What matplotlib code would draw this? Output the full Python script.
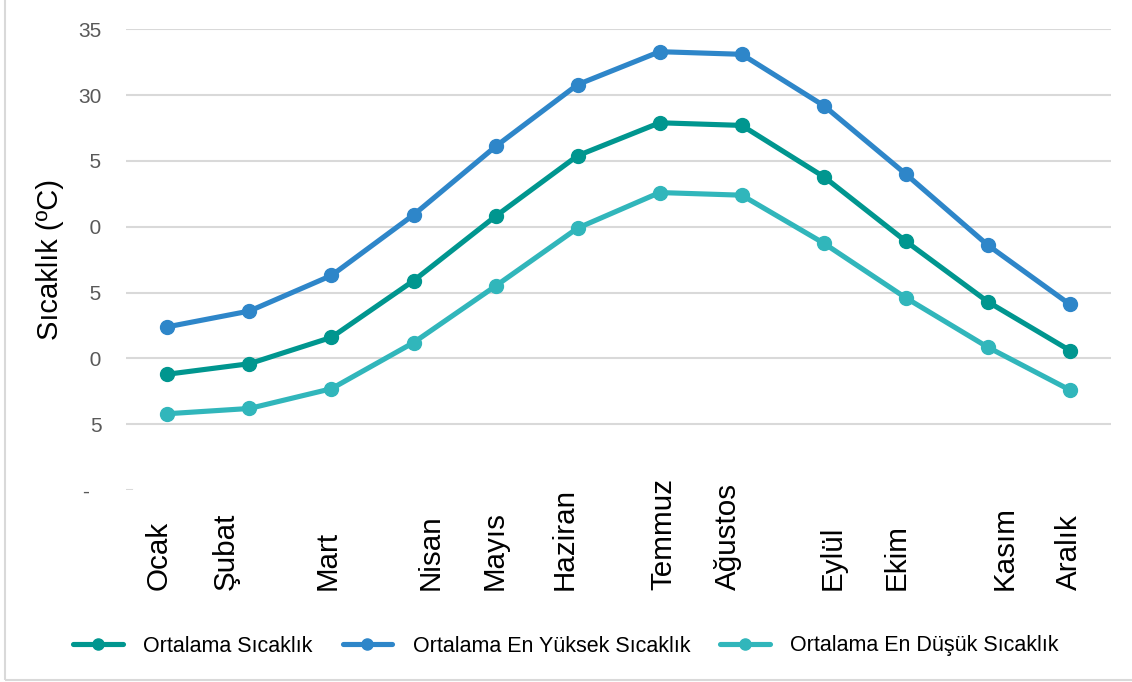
import matplotlib
matplotlib.use("Agg")
import matplotlib.pyplot as plt
from matplotlib.patches import Rectangle
from matplotlib.ticker import FuncFormatter
import matplotlib.transforms as mtransforms

months = ["Ocak", "Şubat", "Mart", "Nisan", "Mayıs", "Haziran",
          "Temmuz", "Ağustos", "Eylül", "Ekim", "Kasım", "Aralık"]
avg_temp = [8.8, 9.6, 11.6, 15.9, 20.8, 25.4, 27.9, 27.7, 23.8, 18.9, 14.3, 10.6]
high_temp = [12.4, 13.6, 16.3, 20.9, 26.1, 30.8, 33.3, 33.1, 29.2, 24.0, 18.6, 14.1]
low_temp = [5.8, 6.2, 7.7, 11.2, 15.5, 19.9, 22.6, 22.4, 18.75, 14.6, 10.85, 7.6]
series_names = ["Ortalama Sıcaklık", "Ortalama En Yüksek Sıcaklık", "Ortalama En Düşük Sıcaklık"]
y_ticks = [0, 5, 10, 15, 20, 25, 30, 35]
y_title = "Sıcaklık (ºC)"

# label horizontal nudges in pixels (layout only)
label_dx = [-9, -24, -4, 17, -1, -13, 4, -14, 9, -9, 17, -1]

colors = ["#00968F", "#2E86C9", "#31B6BB"]

plt.rcParams['font.family'] = ['Liberation Sans', 'DejaVu Sans']

fig = plt.figure(figsize=(11.32, 6.82), dpi=100)
W, H = 1132, 682
ax = fig.add_axes([126.3 / W, 1 - 490.1 / H, 984.7 / W, (490.1 - 29.3) / H])

x = list(range(len(months)))
for vals, name, c in zip([avg_temp, high_temp, low_temp], series_names, colors):
    ax.plot(x, vals, color=c, lw=3.7, marker='o', markersize=10,
            label=name, solid_capstyle='round', zorder=3)

ax.set_xlim(-0.5, len(months) - 0.5)
ax.set_ylim(0, 35)
ax.set_yticks(y_ticks)
ax.yaxis.set_major_formatter(FuncFormatter(lambda v, p: '-  ' if v == 0 else f'{v:g}'))
ax.tick_params(axis='y', length=0, pad=18, labelsize=15, labelcolor='#595959')
ax.set_xticks(x)
ax.set_xticklabels([])
ax.tick_params(axis='x', length=0)
ax.grid(axis='y', color='#D9D9D9', lw=1.5)
ax.set_axisbelow(True)
ax.get_ygridlines()[0].set_visible(False)
ax.axhline(0, xmin=0, xmax=0.006, color='#D9D9D9', lw=1.5)
for s in ax.spines.values():
    s.set_visible(False)

# x labels: rotated, bottom aligned
trans = mtransforms.blended_transform_factory(ax.transData, fig.transFigure)
for i, (m, dx) in enumerate(zip(months, label_dx)):
    t = trans + mtransforms.ScaledTranslation(dx / 100, 0, fig.dpi_scale_trans)
    ax.text(i, 1 - 590 / H, m, transform=t, rotation=90, ha='center', va='bottom',
            fontsize=21.3, color='black', clip_on=False)

ax.set_ylabel(y_title, fontsize=21, color='black', va='center', ha='center',
              bbox=dict(facecolor='white', edgecolor='none', pad=19))
ax.yaxis.set_label_coords((50 - 126.3) / 984.7, 0.5)

leg = fig.legend(loc='center', bbox_to_anchor=(0.5, 1 - 646 / H), ncol=3, frameon=False,
                 fontsize=15.5, handlelength=2.3, handletextpad=0.95, columnspacing=1.4,
                 markerscale=0.8)

fig.add_artist(Rectangle((5 / W, 2 / H), 1.2, 1.2, transform=fig.transFigure,
                         fill=False, edgecolor='#D9D9D9', lw=1.5, clip_on=False))

fig.savefig("out.png", dpi=100)
